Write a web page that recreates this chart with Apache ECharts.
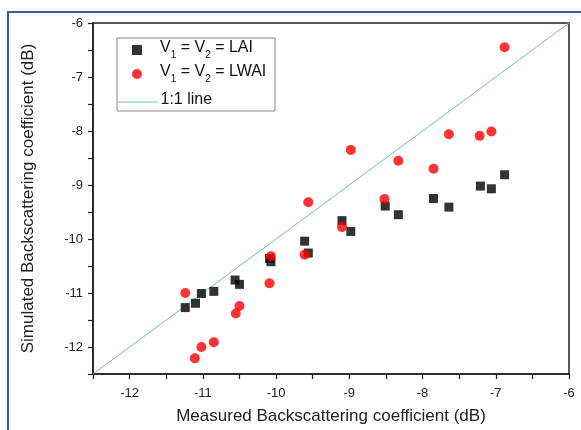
<!DOCTYPE html>
<html>
<head>
<meta charset="utf-8">
<script src="https://cdn.jsdelivr.net/npm/echarts@6/dist/echarts.min.js"></script>
<style>html,body{margin:0;padding:0;background:#fff}#c{width:581px;height:430px}</style>
</head>
<body>
<div id="c"></div>
<script>
var laiX = [-11.24,-11.10,-11.02,-10.85,-10.56,-10.50,-10.09,-10.07,-9.61,-9.56,-9.10,-8.98,-8.51,-8.33,-7.85,-7.64,-7.21,-7.06,-6.88];
var laiY = [-11.27,-11.19,-11.01,-10.97,-10.76,-10.84,-10.36,-10.42,-10.04,-10.26,-9.66,-9.86,-9.39,-9.55,-9.25,-9.41,-9.02,-9.07,-8.81];
var lwaiX = [-11.24,-11.11,-11.02,-10.85,-10.55,-10.50,-10.09,-10.07,-9.61,-9.56,-9.10,-8.98,-8.52,-8.33,-7.85,-7.64,-7.22,-7.06,-6.88];
var lwaiY = [-11.00,-12.21,-12.00,-11.91,-11.38,-11.24,-10.82,-10.32,-10.29,-9.32,-9.78,-8.35,-9.26,-8.55,-8.70,-8.06,-8.09,-8.01,-6.45];
var lineX = [-12.5,-6];
var lineY = [-12.5,-6];

function zip(a,b){return a.map(function(v,i){return [v,b[i]];});}

var chart = echarts.init(document.getElementById('c'), null, {renderer:'canvas'});
var font = 'Liberation Sans, Arial, sans-serif';
function intOnly(v){ return Math.abs(v - Math.round(v)) < 1e-6 ? String(Math.round(v)) : ''; }
var axisCommon = {
  min:-12.5, max:-6, interval:0.5,
  axisLine:{show:true, onZero:false, lineStyle:{color:'#222', width:1.5}},
  axisTick:{show:true, inside:false, length:5, lineStyle:{color:'#222', width:1.2}},
  splitLine:{show:false},
  nameLocation:'middle',
  nameTextStyle:{fontFamily:font, fontSize:17, color:'#222'},
  axisLabel:{fontFamily:font, fontSize:13, color:'#222', formatter:intOnly, margin:10, hideOverlap:false}
};
var richText = {
  a:{fontFamily:font, fontSize:16, color:'#111', lineHeight:20, verticalAlign:'top'},
  s:{fontFamily:font, fontSize:10, color:'#111', lineHeight:20, verticalAlign:'bottom'}
};
chart.setOption({
  animation:false,
  backgroundColor:'#fff',
  grid:{left:93, right:12, top:23, bottom:53, show:true, borderColor:'#222', borderWidth:1.5},
  xAxis: Object.assign({}, axisCommon, {type:'value', name:'Measured Backscattering coefficient (dB)', nameGap:34,
    axisLabel:Object.assign({}, axisCommon.axisLabel, {margin:13})}),
  yAxis: Object.assign({}, axisCommon, {type:'value', name:'Simulated Backscattering coefficient (dB)', nameGap:56}),
  legend:[{
    orient:'vertical', left:132, top:40, itemGap:4, padding:0,
    itemWidth:10, itemHeight:10,
    data:[{name:'LAI', icon:'rect'},{name:'LWAI', icon:'circle'}],
    formatter:function(n){
      if(n==='LAI') return '{a|V}{s|1}{a| = V}{s|2}{a| = LAI}';
      return '{a|V}{s|1}{a| = V}{s|2}{a| = LWAI}';
    },
    textStyle:{fontFamily:font, fontSize:16, color:'#111', padding:[0,0,0,13], rich:richText}
  },{
    orient:'vertical', left:118, top:92, padding:0,
    itemWidth:39, itemHeight:10,
    data:[{name:'1:1 line', itemStyle:{color:'rgba(0,0,0,0)', borderWidth:0, opacity:0}, lineStyle:{color:'#6fbcbc', width:1, opacity:1}}],
    formatter:function(n){ return '{a|1:1 line}'; },
    textStyle:{fontFamily:font, fontSize:16, color:'#111', padding:[0,0,0,-2], rich:richText}
  }],
  graphic:[
    {type:'rect', shape:{x:8, y:12, width:600, height:450}, style:{fill:'none', stroke:'#3a5e9c', lineWidth:2}, silent:true, z:-10},
    {type:'rect', shape:{x:117, y:38, width:158, height:73}, style:{fill:'none', stroke:'#888', lineWidth:1}, silent:true, z:-5}
  ],
  series:[
    {name:'1:1 line', type:'line', data:zip(lineX,lineY), symbol:'none', showSymbol:false, lineStyle:{color:'#6fbcbc', width:1}, itemStyle:{color:'#6fbcbc'}, z:1},
    {name:'LAI', type:'scatter', data:zip(laiX,laiY), symbol:'rect', symbolSize:9, itemStyle:{color:'#000'}, z:2},
    {name:'LWAI', type:'scatter', data:zip(lwaiX,lwaiY), symbol:'circle', symbolSize:10, itemStyle:{color:'#ff0000'}, z:3}
  ]
});
</script>
</body>
</html>
